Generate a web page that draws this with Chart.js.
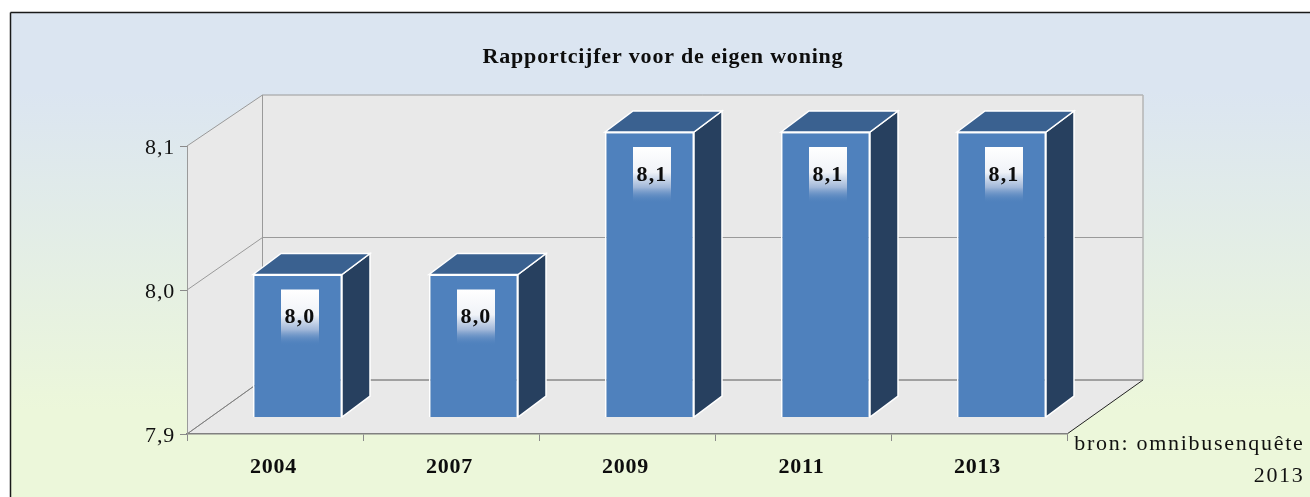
<!DOCTYPE html>
<html>
<head>
<meta charset="utf-8">
<style>html,body{margin:0;padding:0;background:#fff}canvas{display:block}</style>
<script src="https://cdn.jsdelivr.net/npm/chart.js@4/dist/chart.umd.min.js"></script>
</head>
<body>
<canvas id="c" width="1310" height="497"></canvas>
<script>
const categories = ['2004', '2007', '2009', '2011', '2013'];
const scores = [8.0, 8.0, 8.1, 8.1, 8.1];
const yTicks = [7.9, 8.0, 8.1];
const chartTitle = 'Rapportcijfer voor de eigen woning';
const sourceLines = ['bron: omnibusenquête', '2013'];

const FONT = '"Liberation Serif"';
const comma = v => v.toFixed(1).replace('.', ',');
// depth geometry of the 3D look
const wall = { dx: 75.5, dyFromBars: -37 };
const barShift = 22.5;
const box = { dx: 28, dy: -21 };

const poly = (ctx, pts, fill, stroke, lw) => {
  ctx.beginPath();
  pts.forEach((p, i) => i ? ctx.lineTo(p[0], p[1]) : ctx.moveTo(p[0], p[1]));
  ctx.closePath();
  if (fill) { ctx.fillStyle = fill; ctx.fill(); }
  if (stroke) { ctx.strokeStyle = stroke; ctx.lineWidth = lw || 1; ctx.stroke(); }
};
const line = (ctx, x1, y1, x2, y2, color, lw) => {
  ctx.beginPath(); ctx.moveTo(x1, y1); ctx.lineTo(x2, y2);
  ctx.strokeStyle = color; ctx.lineWidth = lw || 1; ctx.stroke();
};

const scene = {
  id: 'scene',
  beforeDraw(chart) {
    const { ctx, width, height, chartArea: a, scales } = chart;
    // centre the title over the whole panel, not the padded box
    chart.titleBlock.left = 0;
    chart.titleBlock.right = 1326;
    ctx.letterSpacing = '0.8px';
    ctx.fillStyle = '#fff'; ctx.fillRect(0, 0, width, height);
    const g = ctx.createLinearGradient(0, 13, 0, height);
    g.addColorStop(0, '#dbe5f1'); g.addColorStop(0.16, '#dbe5f1');
    g.addColorStop(0.82, '#ecf7da'); g.addColorStop(1, '#ecf7da');
    ctx.fillStyle = g; ctx.fillRect(11, 13, width - 11, height - 13);
    line(ctx, 10.5, 12.5, width, 12.5, '#1a1a1a', 1.5);
    line(ctx, 10.5, 12.5, 10.5, height, '#1a1a1a', 1.5);

    const yF = scales.y, yB = scales.yBars;
    const back = v => yB.getPixelForValue(v) + wall.dyFromBars;
    const lo = yTicks[0], hi = yTicks[yTicks.length - 1];
    const L = a.left, R = a.right, BL = L + wall.dx, BR = R + wall.dx + 0.5;
    // floor, back wall, side wall
    poly(ctx, [[L, yF.getPixelForValue(lo)], [BL, back(lo)], [BR, back(lo)], [R, yF.getPixelForValue(lo)]], '#e9e9e9');
    poly(ctx, [[BL, back(hi)], [BR, back(hi)], [BR, back(lo)], [BL, back(lo)]], '#e9e9e9');
    poly(ctx, [[L, yF.getPixelForValue(hi)], [BL, back(hi)], [BL, back(lo)], [L, yF.getPixelForValue(lo)]], '#e9e9e9');
    yTicks.forEach(v => {
      line(ctx, BL, back(v), BR, back(v), '#9a9a9a', 1);
      line(ctx, L, yF.getPixelForValue(v), BL, back(v), '#9a9a9a', 1);
    });
    line(ctx, BL, back(hi), BL, back(lo), '#9a9a9a', 1);
    line(ctx, BR, back(hi), BR, back(lo), '#b4b4b4', 1.5);
    line(ctx, BL, back(lo), BR, back(lo), '#808080', 1);
    line(ctx, L, yF.getPixelForValue(lo), BL, back(lo), '#808080', 1);
    line(ctx, R, yF.getPixelForValue(lo), BR, back(lo), '#222', 1);
  },
  beforeDatasetsDraw(chart) {
    const { ctx } = chart;
    // box sides and tops, taken from the bar elements
    ctx.save();
    ctx.translate(barShift, 0);
    chart.getDatasetMeta(0).data.forEach(b => {
      const l = b.x - b.width / 2, r = b.x + b.width / 2, t = b.y, bot = b.base;
      poly(ctx, [[r, t], [r + box.dx, t + box.dy], [r + box.dx, bot + box.dy], [r, bot]], '#27405f', '#fff', 1.5);
      poly(ctx, [[l, t], [l + box.dx, t + box.dy], [r + box.dx, t + box.dy], [r, t]], '#3a6190', '#fff', 1.5);
    });
    ctx.restore();
    ctx.save();
    ctx.translate(barShift, 0);
  },
  afterDatasetsDraw(chart) {
    const { ctx } = chart;
    ctx.restore();
    ctx.save();
    ctx.translate(barShift, 0);
    chart.getDatasetMeta(0).data.forEach((b, i) => {
      const t = b.y + 15, h = 56, w = 38, x0 = b.x - w / 2 + 2.5;
      const g = ctx.createLinearGradient(0, t, 0, t + h);
      g.addColorStop(0, '#ffffff'); g.addColorStop(0.45, '#f0f3f8');
      g.addColorStop(0.72, 'rgba(165,186,218,0.95)'); g.addColorStop(1, 'rgba(79,129,189,0)');
      ctx.fillStyle = g; ctx.fillRect(x0, t, w, h);
      ctx.font = 'bold 22px ' + FONT;
      ctx.letterSpacing = '1.2px';
      ctx.textAlign = 'center'; ctx.textBaseline = 'middle';
      ctx.fillStyle = '#0d0d0d';
      ctx.fillText(comma(scores[i]), b.x + 2.5, b.y + 43);
    });
    ctx.restore();
    // source note
    ctx.save();
    ctx.font = '22px ' + FONT;
    ctx.letterSpacing = '1.7px';
    ctx.textAlign = 'right'; ctx.textBaseline = 'middle';
    ctx.fillStyle = '#111';
    ctx.fillText(sourceLines[0], 1304.5, 444);
    ctx.fillText(sourceLines[1], 1304.5, 476);
    ctx.restore();
  }
};

new Chart(document.getElementById('c'), {
  type: 'bar',
  data: {
    labels: categories,
    datasets: [{
      data: scores,
      yAxisID: 'yBars',
      base: yTicks[0],
      clip: false,
      backgroundColor: '#4f81bd',
      borderColor: '#ffffff',
      borderWidth: 1.5,
      categoryPercentage: 1,
      barPercentage: 89 / 176
    }]
  },
  options: {
    responsive: false,
    animation: false,
    layout: { padding: { left: 0, right: 243, top: 0, bottom: 0 } },
    plugins: {
      legend: { display: false },
      tooltip: { enabled: false },
      title: {
        display: true,
        text: chartTitle,
        color: '#0d0d0d',
        font: { family: FONT, size: 22, weight: 'bold', lineHeight: 1 },
        padding: { top: 46, bottom: 78 }
      }
    },
    scales: {
      x: {
        grid: { offset: true, drawOnChartArea: false, drawTicks: true, tickLength: 7, color: '#8a8a8a' },
        border: { color: '#808080', width: 1.5 },
        ticks: { color: '#0d0d0d', font: { family: FONT, size: 22, weight: 'bold' }, padding: 13, maxRotation: 0, labelOffset: -1.5 },
        afterFit: s => { s.height = 63; }
      },
      y: {
        min: yTicks[0], max: yTicks[yTicks.length - 1],
        grid: { drawOnChartArea: false, drawTicks: true, tickLength: 7, color: '#8a8a8a' },
        border: { color: '#9a9a9a', width: 1 },
        ticks: { stepSize: 0.1, color: '#111', font: { family: FONT, size: 22 }, padding: 5, labelOffset: 2, callback: v => comma(v) },
        afterFit: s => { s.width = 187; }
      },
      yBars: {
        display: false,
        min: 7.9 - 17 * 0.2 / 285,
        max: 8.1 - 14 * 0.2 / 285
      }
    }
  },
  plugins: [scene]
});
</script>
</body>
</html>
